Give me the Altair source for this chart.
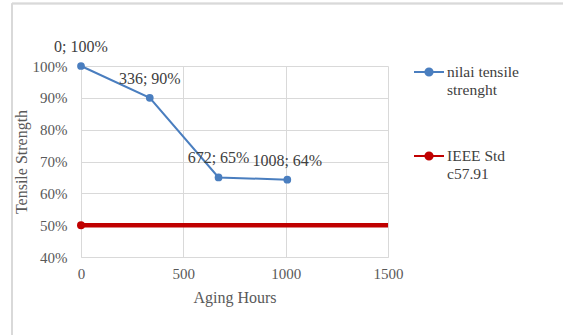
import altair as alt
import pandas as pd

# Tensile strength retained vs. aging time
hours = [0, 336, 672, 1008]
tensile = [1.00, 0.90, 0.65, 0.643]

# IEEE Std C57.91 end-of-life threshold
ieee_hours = [0, 1500]
ieee_values = [0.50, 0.50]

series_names = ["nilai tensile strenght", "IEEE Std c57.91"]
series_colors = ["#4a7ebf", "#c00000"]
y_ticks = [0.4, 0.5, 0.6, 0.7, 0.8, 0.9, 1.0]
x_ticks = [0, 500, 1000, 1500]

FONT = "Liberation Serif, Times New Roman, serif"

tensile_df = pd.DataFrame({"hours": hours, "value": tensile, "series": series_names[0]})
ieee_df = pd.DataFrame({"hours": ieee_hours, "value": ieee_values, "series": series_names[1]})

x_enc = alt.X(
    "hours:Q",
    scale=alt.Scale(domain=[0, 1500], nice=False),
    axis=alt.Axis(values=x_ticks, title="Aging Hours", format="d",
                  labelOverlap=False, labelFlush=False),
)
y_enc = alt.Y(
    "value:Q",
    scale=alt.Scale(domain=[0.4, 1.0], nice=False, zero=False),
    axis=alt.Axis(values=y_ticks, format=".0%", title="Tensile Strength",
                  labelOverlap=False, labelFlush=False),
)
color_scale = alt.Scale(domain=series_names, range=series_colors)
color_enc = alt.Color(
    "series:N",
    scale=color_scale,
    legend=alt.Legend(
        title=None,
        orient="none",
        legendX=332,
        legendY=-10,
        symbolType="M-1,0L1,0M-0.24,0A0.24,0.24 0 1,1 0.24,0A0.24,0.24 0 1,1 -0.24,0",
        symbolSize=900,
        symbolStrokeWidth=2,
        symbolFillColor=None,
        labelFont=FONT,
        labelFontSize=15.5,
        labelColor="#404040",
        labelLimit=200,
        labelOffset=2,
        rowPadding=42,
        labelExpr="datum.label == 'nilai tensile strenght' ? ['nilai tensile', 'strenght'] : ['IEEE Std', 'c57.91']",
    ),
)
color_plain = alt.Color("series:N", scale=color_scale, legend=None)

base_t = alt.Chart(tensile_df)
base_i = alt.Chart(ieee_df)

ieee_line = base_i.mark_line(strokeWidth=4.5).encode(x=x_enc, y=y_enc, color=color_enc)
ieee_dot = base_i.transform_filter("datum.hours == 0").mark_circle(size=64, opacity=1).encode(
    x=x_enc, y=y_enc, color=color_plain
)

tensile_line = base_t.mark_line(strokeWidth=2).encode(x=x_enc, y=y_enc, color=color_plain)
tensile_dot = base_t.mark_circle(size=60, opacity=1).encode(x=x_enc, y=y_enc, color=color_plain)
tensile_text = base_t.transform_calculate(
    label="format(datum.hours, 'd') + '; ' + format(datum.value, '.0%')"
).mark_text(font=FONT, fontSize=16, color="#404040", dy=-19, baseline="middle").encode(
    x=x_enc, y=y_enc, text="label:N"
)

# outer frame of the chart area (top and left edges)
frame_top = alt.Chart(tensile_df).mark_rule(color="#d9d9d9", strokeWidth=1.5).encode(
    x=alt.value(-69), x2=alt.value(500), y=alt.value(-62.5)
)
frame_left = alt.Chart(tensile_df).mark_rule(color="#d9d9d9", strokeWidth=1.5).encode(
    x=alt.value(-69), y=alt.value(-62.5), y2=alt.value(280)
)

chart = alt.layer(
    frame_top, frame_left, ieee_line, ieee_dot, tensile_line, tensile_dot, tensile_text
).properties(
    width=307,
    height=191,
    autosize=alt.AutoSizeParams(type="none"),
    padding={"left": 81, "top": 66, "right": 175, "bottom": 78},
    background="white",
).configure_view(stroke=None).configure_axis(
    labelFont=FONT,
    titleFont=FONT,
    labelFontSize=15,
    titleFontSize=16,
    labelColor="#595959",
    titleColor="#595959",
    titleFontWeight="normal",
    gridColor="#d9d9d9",
    domainColor="#d9d9d9",
    ticks=False,
).configure_axisY(
    domain=False, labelPadding=14, titlePadding=3
).configure_axisX(
    labelPadding=9, titlePadding=8
)

chart.save("out.html", embed_options={"renderer": "svg", "actions": False})
